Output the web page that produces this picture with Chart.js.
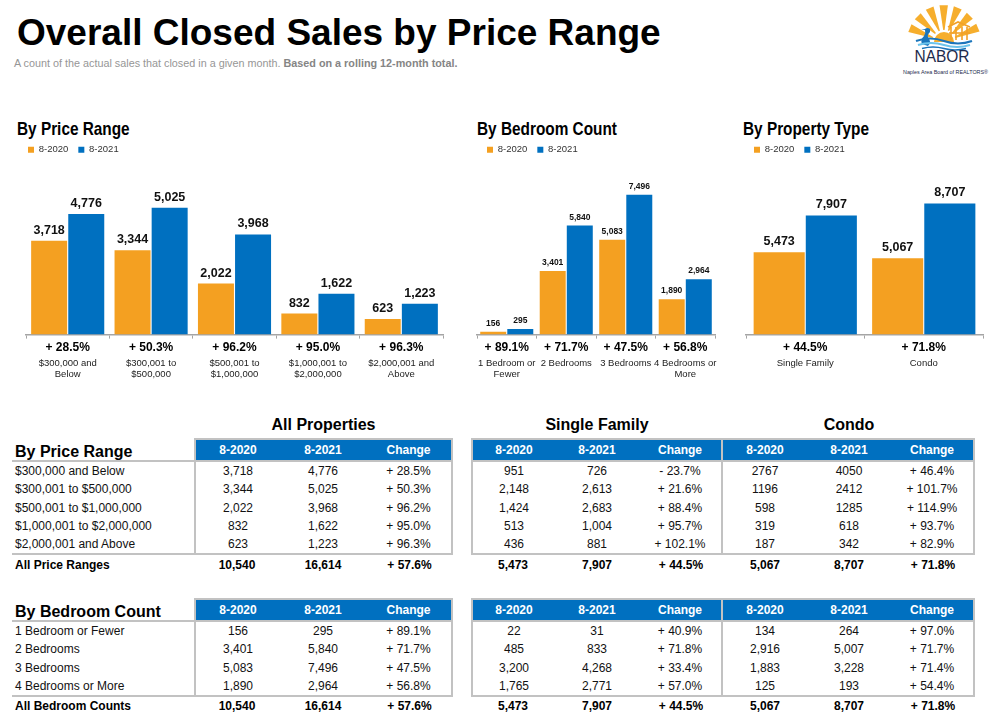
<!DOCTYPE html>
<html>
<head>
<meta charset="utf-8">
<script src="https://cdn.jsdelivr.net/npm/chart.js@4.4.0/dist/chart.umd.min.js"></script>
<style>
  body { margin: 0; background: #fff; width: 1002px; height: 725px; overflow: hidden; position: relative;
         font-family: "Liberation Sans", Arial, Helvetica, sans-serif; color: #111; }
  .abs { position: absolute; white-space: nowrap; }
  #title { left: 17px; top: 14px; font-size: 37px; line-height: 37px; font-weight: bold; color: #000; }
  #subtitle { left: 14px; top: 57px; font-size: 10.8px; line-height: 12px; color: #969696; }
  #subtitle b { color: #858585; }
  .chartHead { top: 119px; font-weight: bold; font-size: 18.5px; line-height: 20px; color: #000;
               transform: scaleX(0.83); transform-origin: left center; }
  .tblHead { top: 416px; font-size: 16px; line-height: 18px; font-weight: bold; color: #000; text-align: center; }
  canvas { position: absolute; }
  table.t { position: absolute; border-collapse: separate; border-spacing: 0; table-layout: fixed; font-size: 12px; color: #111; }
  table.t td { height: 18.3px; padding: 0; text-align: center; white-space: nowrap; line-height: 14px; }
  table.t td.lab { text-align: left; padding-left: 3px; }
  table.t td.hd { background: #0070C0; color: #fff; font-weight: bold; height: 20px; }
  table.t td.hlab { font-size: 16px; font-weight: bold; color: #000; text-align: left; padding-left: 3px;
                    padding-top: 5px; height: 15px; }
  table.t tr.tot td { font-weight: bold; color: #000; }
</style>
</head>
<body>
<div id="title" class="abs">Overall Closed Sales by Price Range</div>
<div id="subtitle" class="abs">A count of the actual sales that closed in a given month. <b>Based on a rolling 12-month total.</b></div>
<svg id="logo" width="100" height="80" viewBox="0 0 100 80" style="position:absolute;left:900px;top:0"></svg>

<div class="abs chartHead" style="left:17px">By Price Range</div>
<div class="abs chartHead" style="left:477px">By Bedroom Count</div>
<div class="abs chartHead" style="left:743px">By Property Type</div>

<canvas id="priceChart" width="450" height="247" style="left:0;top:135px"></canvas>
<canvas id="bedChart" width="250" height="247" style="left:470px;top:135px"></canvas>
<canvas id="typeChart" width="262" height="247" style="left:740px;top:135px"></canvas>

<div class="abs tblHead" style="left:194px;width:259px">All Properties</div>
<div class="abs tblHead" style="left:471px;width:252px">Single Family</div>
<div class="abs tblHead" style="left:723px;width:252px">Condo</div>

<div id="tables"></div>

<script>
const ORANGE = '#F4A021';
const BLUE = '#0070C0';
const GRAY_LINE = '2px solid #c2c2c2';

// ---- chart data ----
const priceCats = [['$300,000 and', 'Below'], ['$300,001 to', '$500,000'], ['$500,001 to', '$1,000,000'],
                   ['$1,000,001 to', '$2,000,000'], ['$2,000,001 and', 'Above']];
const price2020 = [3718, 3344, 2022, 832, 623];
const price2021 = [4776, 5025, 3968, 1622, 1223];
const priceChange = ['+ 28.5%', '+ 50.3%', '+ 96.2%', '+ 95.0%', '+ 96.3%'];

const bedCats = [['1 Bedroom or', 'Fewer'], '2 Bedrooms', '3 Bedrooms', ['4 Bedrooms or', 'More']];
const bed2020 = [156, 3401, 5083, 1890];
const bed2021 = [295, 5840, 7496, 2964];
const bedChange = ['+ 89.1%', '+ 71.7%', '+ 47.5%', '+ 56.8%'];

const typeCats = ['Single Family', 'Condo'];
const type2020 = [5473, 5067];
const type2021 = [7907, 8707];
const typeChange = ['+ 44.5%', '+ 71.8%'];

// ---- table data ----
const priceRows = ['$300,000 and Below', '$300,001 to $500,000', '$500,001 to $1,000,000',
                   '$1,000,001 to $2,000,000', '$2,000,001 and Above'];
const allPriceChange = ['+ 28.5%', '+ 50.3%', '+ 96.2%', '+ 95.0%', '+ 96.3%'];
const sfPrice2020 = ['951', '2,148', '1,424', '513', '436'];
const sfPrice2021 = ['726', '2,613', '2,683', '1,004', '881'];
const sfPriceChange = ['- 23.7%', '+ 21.6%', '+ 88.4%', '+ 95.7%', '+ 102.1%'];
const condoPrice2020 = ['2767', '1196', '598', '319', '187'];
const condoPrice2021 = ['4050', '2412', '1285', '618', '342'];
const condoPriceChange = ['+ 46.4%', '+ 101.7%', '+ 114.9%', '+ 93.7%', '+ 82.9%'];

const bedRows = ['1 Bedroom or Fewer', '2 Bedrooms', '3 Bedrooms', '4 Bedrooms or More'];
const allBedChange = ['+ 89.1%', '+ 71.7%', '+ 47.5%', '+ 56.8%'];
const sfBed2020 = ['22', '485', '3,200', '1,765'];
const sfBed2021 = ['31', '833', '4,268', '2,771'];
const sfBedChange = ['+ 40.9%', '+ 71.8%', '+ 33.4%', '+ 57.0%'];
const condoBed2020 = ['134', '2,916', '1,883', '125'];
const condoBed2021 = ['264', '5,007', '3,228', '193'];
const condoBedChange = ['+ 97.0%', '+ 71.7%', '+ 71.4%', '+ 54.4%'];

const totalsAll = ['10,540', '16,614', '+ 57.6%'];
const totalsSF = ['5,473', '7,907', '+ 44.5%'];
const totalsCondo = ['5,067', '8,707', '+ 71.8%'];

const fmt = (v) => v.toLocaleString('en-US');

Chart.defaults.font.family = '"Liberation Sans", Arial, Helvetica, sans-serif';

// numbers above the bars
const valueLabels = {
  id: 'valueLabels',
  afterDatasetsDraw(chart, args, opts) {
    const ctx = chart.ctx;
    ctx.save();
    ctx.font = `bold ${opts.size}px "Liberation Sans", Arial, sans-serif`;
    ctx.fillStyle = '#111';
    ctx.textAlign = 'center';
    ctx.textBaseline = 'alphabetic';
    chart.data.datasets.forEach((ds, i) => {
      chart.getDatasetMeta(i).data.forEach((bar, j) => {
        ctx.fillText(fmt(ds.data[j]), bar.x, bar.y - opts.gap);
      });
    });
    ctx.restore();
  },
};

function barChart(id, cats, changes, d2020, d2021, o) {
  return new Chart(document.getElementById(id), {
    type: 'bar',
    data: {
      labels: changes,
      datasets: [
        { label: '8-2020', data: d2020, backgroundColor: ORANGE, barPercentage: o.bar, categoryPercentage: o.cat },
        { label: '8-2021', data: d2021, backgroundColor: BLUE, barPercentage: o.bar, categoryPercentage: o.cat },
      ],
    },
    options: {
      responsive: false,
      animation: false,
      events: [],
      layout: { padding: { left: o.padL, right: o.padR, top: 0, bottom: 0 } },
      plugins: {
        legend: {
          align: 'start',
          labels: { boxWidth: 6, boxHeight: 6, padding: 10, color: '#333', font: { size: 9.5 } },
        },
        tooltip: { enabled: false },
        valueLabels: { size: o.valSize, gap: o.valGap },
      },
      scales: {
        y: {
          min: 0,
          max: o.max,
          ticks: { display: false },
          grid: { display: false },
          border: { display: false },
          afterFit: (s) => { s.width = o.yw; },
        },
        x: {
          offset: true,
          grid: { offset: true, drawOnChartArea: false, tickLength: 4, color: '#a5a5a5' },
          border: { color: '#a5a5a5', width: 1.5 },
          ticks: { autoSkip: false, maxRotation: 0, padding: 2, color: '#000', font: { size: 12, weight: 'bold' } },
        },
        x2: {
          type: 'category',
          labels: cats,
          position: 'bottom',
          weight: 1,
          offset: true,
          grid: { display: false, drawTicks: false },
          border: { display: false },
          ticks: { autoSkip: false, maxRotation: 0, padding: 1, color: '#222', font: { size: 9.5, lineHeight: 1.15 } },
          afterFit: (s) => { s.height = 25; },
        },
      },
    },
    plugins: [valueLabels],
  });
}

barChart('priceChart', priceCats, priceChange, price2020, price2021,
  { padL: 18, padR: 7, yw: 8, max: 6740, bar: 0.97, cat: 0.89, valSize: 12.5, valGap: 7 });
barChart('bedChart', bedCats, bedChange, bed2020, bed2021,
  { padL: 7, padR: 5, yw: 0, max: 9110, bar: 0.96, cat: 0.91, valSize: 8.5, valGap: 6 });
barChart('typeChart', typeCats, typeChange, type2020, type2021,
  { padL: 4, padR: 19, yw: 2, max: 11290, bar: 0.98, cat: 0.88, valSize: 12.5, valGap: 7 });

// ---- tables ----
function buildTable(x, y, colWidths, headLabel, rowLabels, groups, totalLabel, totals) {
  const hasLabel = rowLabels !== null;
  let h = `<table class="t" style="left:${x}px;top:${y}px"><colgroup>`;
  colWidths.forEach((w) => { h += `<col style="width:${w}px">`; });
  h += '</colgroup>';

  // header row
  h += '<tr>';
  if (hasLabel) h += `<td class="hlab" style="border-bottom:${GRAY_LINE}">${headLabel}</td>`;
  groups.forEach((g, gi) => {
    ['8-2020', '8-2021', 'Change'].forEach((txt, k) => {
      let st = `border-top:${GRAY_LINE};border-bottom:${GRAY_LINE};`;
      if (gi === 0 && k === 0) st += `border-left:${GRAY_LINE};`;
      if (k === 2) st += `border-right:${GRAY_LINE};`;
      h += `<td class="hd" style="${st}">${txt}</td>`;
    });
  });
  h += '</tr>';

  const n = groups[0][0].length;
  for (let r = 0; r < n; r++) {
    const last = r === n - 1;
    const bb = last ? `border-bottom:${GRAY_LINE};` : '';
    h += '<tr>';
    if (hasLabel) h += `<td class="lab" style="${bb}">${rowLabels[r]}</td>`;
    groups.forEach((g, gi) => {
      g.forEach((col, k) => {
        let st = bb;
        if (gi === 0 && k === 0) st += `border-left:${GRAY_LINE};`;
        if (k === 2) st += `border-right:${GRAY_LINE};`;
        h += `<td style="${st}">${col[r]}</td>`;
      });
    });
    h += '</tr>';
  }

  h += '<tr class="tot">';
  if (hasLabel) h += `<td class="lab">${totalLabel}</td>`;
  totals.forEach((t) => { t.forEach((v) => { h += `<td>${v}</td>`; }); });
  h += '</tr></table>';
  return h;
}

const allPrice2020 = price2020.map(fmt);
const allPrice2021 = price2021.map(fmt);
const allBed2020 = bed2020.map(fmt);
const allBed2021 = bed2021.map(fmt);

let tables = '';
tables += buildTable(12, 438, [182, 86, 86, 87], 'By Price Range', priceRows,
  [[allPrice2020, allPrice2021, allPriceChange]], 'All Price Ranges', [totalsAll]);
tables += buildTable(471, 438, [84, 84, 84, 84, 84, 84], '', null,
  [[sfPrice2020, sfPrice2021, sfPriceChange], [condoPrice2020, condoPrice2021, condoPriceChange]],
  '', [totalsSF, totalsCondo]);
tables += buildTable(12, 598, [182, 86, 86, 87], 'By Bedroom Count', bedRows,
  [[allBed2020, allBed2021, allBedChange]], 'All Bedroom Counts', [totalsAll]);
tables += buildTable(471, 598, [84, 84, 84, 84, 84, 84], '', null,
  [[sfBed2020, sfBed2021, sfBedChange], [condoBed2020, condoBed2021, condoBedChange]],
  '', [totalsSF, totalsCondo]);
document.getElementById('tables').innerHTML = tables;

// ---- logo ----
(function drawLogo() {
  const svg = document.getElementById('logo');
  const cx = 44, cy = 42;
  let s = '<g fill="#F6AE2D">';
  for (let i = 0; i < 7; i++) {
    const a = (-158 + i * 22.5) * Math.PI / 180;
    const w = 6.5 * Math.PI / 180;
    const r1 = 12, r2 = 37;
    const p = [
      [cx + r1 * Math.cos(a - w * 0.5), cy + r1 * Math.sin(a - w * 0.5)],
      [cx + r2 * Math.cos(a - w), cy + r2 * Math.sin(a - w)],
      [cx + r2 * Math.cos(a + w), cy + r2 * Math.sin(a + w)],
      [cx + r1 * Math.cos(a + w * 0.5), cy + r1 * Math.sin(a + w * 0.5)],
    ];
    s += `<polygon points="${p.map((q) => q.map((v) => v.toFixed(1)).join(',')).join(' ')}"/>`;
  }
  s += `<path d="M ${cx - 10} ${cy} A 10 10 0 0 1 ${cx + 10} ${cy} Z"/></g>`;
  // pier house
  s += '<g stroke="#F2A12A" stroke-width="1.6" fill="none">' +
       '<path d="M 48 27 L 58 22 L 70 27"/><path d="M 51 27 L 51 40 M 56 27 L 56 40 M 62 27 L 62 40 M 67 27 L 67 40"/>' +
       '<path d="M 49 33 L 70 33"/></g>';
  // heron
  s += '<path d="M 30 29 q -3 -2 -5 0 l -4 1 l 4 0 q 1 3 -1 6 q -4 4 -2 8 l 6 2 q 4 -4 0 -9 q -1 -2 2 -5 z" fill="#1b75bb"/>';
  // waves
  s += '<path d="M 16 41 q 14 -5 28 0 t 28 0" stroke="#1b75bb" stroke-width="2.2" fill="none"/>';
  s += '<path d="M 18 45 q 13 -4 26 0 t 26 0" stroke="#6cc4ec" stroke-width="2" fill="none"/>';
  s += '<path d="M 22 48.5 q 11 -3 22 0 t 22 0" stroke="#1b75bb" stroke-width="1.4" fill="none"/>';
  s += '<text x="42" y="61.5" text-anchor="middle" font-family="Liberation Sans, Arial, sans-serif" font-size="17" fill="#1d2b4c" textLength="55" lengthAdjust="spacingAndGlyphs">NABOR</text>';
  s += '<text x="45.5" y="73.5" text-anchor="middle" font-family="Liberation Sans, Arial, sans-serif" font-size="6" fill="#1d2b4c" textLength="85" lengthAdjust="spacingAndGlyphs">Naples Area Board of REALTORS®</text>';
  svg.innerHTML = s;
})();
</script>
</body>
</html>
